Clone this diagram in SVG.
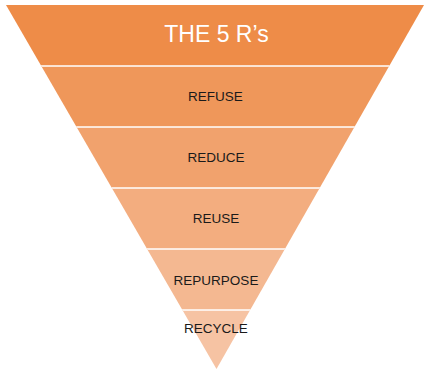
<svg xmlns="http://www.w3.org/2000/svg" width="425" height="369" viewBox="0 0 425 369">
  <style>
    .lbl { font-family: "Liberation Sans", Arial, sans-serif; font-size: 13.5px; fill: #1a1a1a; text-anchor: middle; }
    .title { font-family: "Liberation Sans", Arial, sans-serif; font-size: 23px; fill: #ffffff; text-anchor: middle; }
    .sep { stroke: #ffffff; stroke-width: 1.6; }
  </style>
  <defs>
    <clipPath id="tri">
      <polygon points="6,5 424,5 216.5,369"/>
    </clipPath>
  </defs>
  <rect width="425" height="369" fill="#ffffff"/>
  <g clip-path="url(#tri)">
    <g id="band-title"><rect x="0" y="5" width="425" height="61" fill="#EE8C48"/></g>
    <g id="band-refuse"><rect x="0" y="66" width="425" height="61" fill="#EF975A"/></g>
    <g id="band-reduce"><rect x="0" y="127" width="425" height="61" fill="#F1A26D"/></g>
    <g id="band-reuse"><rect x="0" y="188" width="425" height="61" fill="#F3AD7F"/></g>
    <g id="band-repurpose"><rect x="0" y="249" width="425" height="61" fill="#F4B891"/></g>
    <g id="band-recycle"><rect x="0" y="310" width="425" height="60" fill="#F6C3A3"/></g>
    <g id="separators">
      <line class="sep" x1="0" y1="66" x2="425" y2="66"/>
      <line class="sep" x1="0" y1="127" x2="425" y2="127"/>
      <line class="sep" x1="0" y1="188" x2="425" y2="188"/>
      <line class="sep" x1="0" y1="249" x2="425" y2="249"/>
      <line class="sep" x1="0" y1="310" x2="425" y2="310"/>
    </g>
  </g>
  <g id="labels">
    <text class="title" x="216.5" y="41.7">THE 5 R’s</text>
    <text class="lbl" x="215.5" y="101">REFUSE</text>
    <text class="lbl" x="216" y="162">REDUCE</text>
    <text class="lbl" x="216" y="223">REUSE</text>
    <text class="lbl" x="216" y="284.5">REPURPOSE</text>
    <text class="lbl" x="216" y="333">RECYCLE</text>
  </g>
</svg>
